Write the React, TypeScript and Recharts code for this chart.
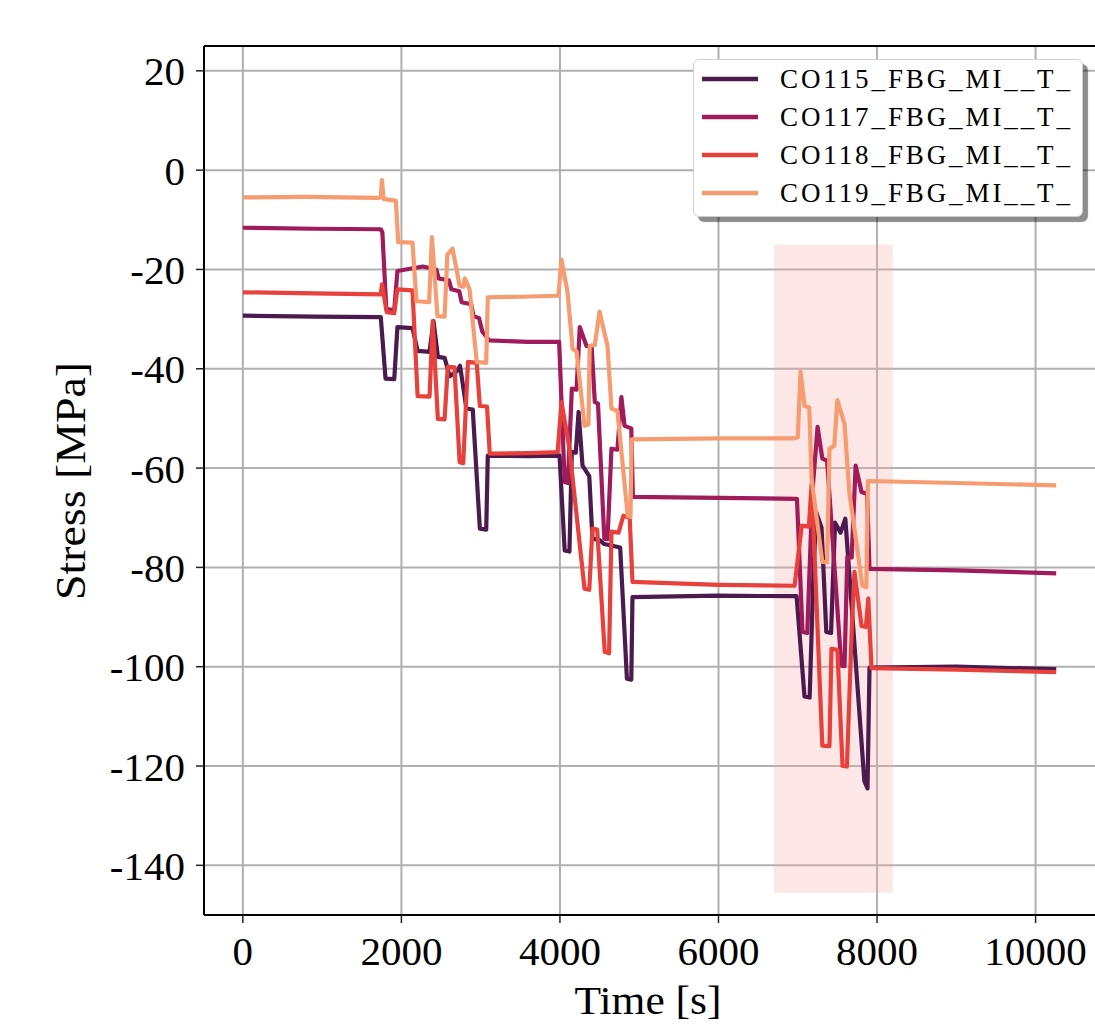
import React from 'react';
import {
  LineChart, Line, XAxis, YAxis, CartesianGrid, ReferenceArea, ReferenceLine, Legend, Label,
} from 'recharts';

const FONT = "'Liberation Serif', 'Times New Roman', serif";

const TIME_TICKS = [0, 2000, 4000, 6000, 8000, 10000];
const STRESS_TICKS = [20, 0, -20, -40, -60, -80, -100, -120, -140];

const SENSOR_NAMES = ['CO115_FBG_MI__T_', 'CO117_FBG_MI__T_', 'CO118_FBG_MI__T_', 'CO119_FBG_MI__T_'];
const SENSOR_COLORS = ['#4b1a4e', '#9f1b5b', '#e8413c', '#f79c70'];

// highlighted window [s] / [MPa]
const WINDOW_T = [6700, 8200];
const WINDOW_S = [-145.5, -15];

// [time s, stress MPa]
const co115: [number, number][] = [
  [0, -29.3], [900, -29.5], [1740, -29.6], [1800, -42.0], [1910, -42.1], [1950, -31.6],
  [2140, -31.8], [2205, -36.4], [2355, -36.6], [2405, -30.4], [2460, -37.6], [2545, -37.8],
  [2610, -41.5], [2700, -40.5], [2740, -39.4], [2820, -48.0], [2900, -48.2], [2990, -72.2],
  [3070, -72.4], [3090, -57.5], [3600, -57.6], [3995, -57.5], [4060, -76.6], [4120, -76.8],
  [4150, -56.7], [4200, -56.9], [4235, -48.7], [4285, -59.5], [4370, -61.6], [4410, -74.2],
  [4500, -74.5], [4560, -75.3], [4760, -76.0], [4845, -102.4], [4900, -102.6], [4915, -86.0],
  [6000, -85.7], [6985, -85.8], [7085, -106.0], [7150, -106.2], [7200, -80.0], [7235, -69.0],
  [7300, -72.0], [7360, -93.0], [7420, -93.2], [7470, -71.0], [7540, -73.0], [7600, -70.2],
  [7840, -123.0], [7880, -124.5], [7905, -100.2], [9000, -100.0], [10260, -100.5],
];

const co117: [number, number][] = [
  [0, -11.6], [900, -11.8], [1740, -11.9], [1760, -12.5], [1810, -28.0], [1910, -28.2],
  [1950, -20.3], [2270, -19.4], [2440, -20.0], [2470, -21.8], [2600, -22.2], [2630, -24.0],
  [2730, -24.4], [2760, -26.6], [2880, -27.0], [2910, -29.4], [2980, -29.8], [3020, -32.5],
  [3110, -34.3], [3600, -34.6], [3990, -34.6], [4060, -62.8], [4100, -63.0],
  [4150, -44.0], [4210, -44.2], [4250, -31.6], [4335, -35.4], [4400, -35.6], [4440, -46.7],
  [4480, -47.0], [4560, -74.2], [4600, -74.3], [4650, -56.1], [4725, -56.3], [4775, -45.7],
  [4815, -51.5], [4900, -52.0], [4920, -65.8], [6000, -66.0], [6990, -66.2], [7060, -93.0],
  [7120, -93.2], [7185, -64.8], [7250, -51.7], [7310, -58.1], [7370, -58.5], [7550, -99.8],
  [7590, -99.9], [7625, -77.9], [7680, -78.0], [7730, -59.5], [7805, -64.8], [7875, -65.2],
  [7905, -80.3], [9000, -80.6], [10260, -81.2],
];

const co118: [number, number][] = [
  [0, -24.6], [900, -24.8], [1740, -25.0], [1755, -23.0], [1815, -28.6], [1910, -28.8],
  [1950, -24.0], [2140, -24.2], [2205, -45.5], [2355, -45.6], [2395, -30.4], [2460, -50.1],
  [2545, -50.2], [2585, -39.6], [2670, -39.7], [2735, -58.8], [2780, -59.0], [2840, -38.6],
  [2950, -38.8], [2990, -47.5], [3080, -47.6], [3115, -57.1], [3600, -57.0], [3970, -56.8],
  [4020, -46.7], [4060, -50.5], [4120, -56.1], [4310, -84.3], [4370, -84.5], [4410, -72.2],
  [4470, -72.4], [4565, -97.0], [4620, -97.3], [4650, -72.8], [4740, -73.0], [4800, -69.6],
  [4880, -70.0], [4915, -82.9], [6000, -83.5], [6960, -83.7], [7050, -71.6], [7140, -71.8],
  [7175, -63.2], [7310, -115.9], [7400, -116.0], [7425, -96.4], [7500, -96.6], [7565, -120.0],
  [7620, -120.1], [7680, -93.0], [7715, -80.9], [7805, -91.8], [7860, -92.0], [7890, -86.3],
  [7930, -100.3], [9000, -100.6], [10260, -101.1],
];

const co119: [number, number][] = [
  [0, -5.5], [800, -5.4], [1700, -5.6], [1740, -5.5], [1755, -2.0], [1775, -5.8],
  [1930, -6.2], [1960, -14.5], [2140, -14.6], [2190, -26.4], [2350, -26.6], [2385, -13.5],
  [2455, -29.4], [2545, -29.5], [2580, -17.0], [2645, -15.8], [2735, -23.3], [2780, -23.5],
  [2800, -21.8], [2860, -24.0], [2950, -38.6], [3070, -38.8], [3090, -25.6], [3500, -25.5],
  [3980, -25.3], [4020, -18.0], [4095, -24.5], [4160, -36.0], [4210, -36.5], [4310, -51.5],
  [4360, -51.2], [4375, -35.4], [4440, -35.2], [4500, -28.5], [4600, -35.4], [4650, -48.0],
  [4725, -48.5], [4855, -69.6], [4890, -69.8], [4905, -54.2], [6000, -54.0], [6960, -54.0],
  [7000, -53.8], [7035, -40.6], [7085, -47.5], [7145, -47.8], [7175, -62.2], [7310, -78.9],
  [7370, -79.0], [7400, -56.1], [7460, -55.5], [7500, -46.3], [7590, -51.1], [7650, -64.8],
  [7815, -83.7], [7865, -84.0], [7885, -62.6], [9000, -63.0], [10260, -63.5],
];

const toPoints = (rows: [number, number][]) => rows.map(([t, v]) => ({ t, v }));

const SERIES = [co115, co117, co118, co119].map((rows, i) => ({
  name: SENSOR_NAMES[i],
  color: SENSOR_COLORS[i],
  data: toPoints(rows),
}));

const LegendBox = () => (
  <div
    style={{
      width: 390, height: 158, boxSizing: 'border-box', background: '#fff',
      border: '1.5px solid #cfcfcf', borderRadius: 6,
      boxShadow: '5px 5px 1px rgba(0,0,0,0.45)',
    }}
  >
    <svg width={387} height={155} style={{ display: 'block' }}>
      {SERIES.map((s, i) => (
        <g key={s.name}>
          <line x1={8} x2={64} y1={19 + i * 38} y2={19 + i * 38} stroke={s.color} strokeWidth={4.5} />
          <text
            x={86} y={28 + i * 38} fontSize={27} fontFamily={FONT} fill="#000"
            textLength={290} lengthAdjust="spacing"
          >
            {s.name}
          </text>
        </g>
      ))}
    </svg>
  </div>
);

export default function App() {
  return (
    <div style={{ position: 'absolute', left: 0, top: 0, width: 1095, height: 1027, overflow: 'hidden', background: '#fff' }}>
      <LineChart width={1099} height={1027} margin={{ top: 46, right: 0, bottom: 0, left: 0 }}>
        <CartesianGrid stroke="#b0b0b0" strokeWidth={2} />
        <XAxis
          dataKey="t" type="number" domain={[-490, 10800]} allowDataOverflow ticks={TIME_TICKS}
          height={112} tickSize={8} tickMargin={13}
          tick={{ fontSize: 41, fontFamily: FONT, fill: '#000' }}
          tickLine={{ stroke: '#222', strokeWidth: 1.5 }}
          axisLine={{ stroke: '#000', strokeWidth: 2 }}
        >
          <Label
            content={() => (
              <text x={648} y={1014} textAnchor="middle" fontSize={41} fontFamily={FONT} fill="#000" textLength={147} lengthAdjust="spacingAndGlyphs">
                Time [s]
              </text>
            )}
          />
        </XAxis>
        <YAxis
          type="number" domain={[-150, 25]} allowDataOverflow ticks={STRESS_TICKS}
          width={204} tickSize={8} tickMargin={11}
          tickFormatter={(v: number) => String(v)}
          tick={{ fontSize: 41, fontFamily: FONT, fill: '#000' }}
          tickLine={{ stroke: '#222', strokeWidth: 1.5 }}
          axisLine={{ stroke: '#000', strokeWidth: 2 }}
        >
          <Label
            content={() => (
              <text
                x={85} y={481} textAnchor="middle" fontSize={43} fontFamily={FONT} fill="#000"
                transform="rotate(-90, 85, 481)" textLength={238} lengthAdjust="spacingAndGlyphs"
              >
                Stress [MPa]
              </text>
            )}
          />
        </YAxis>
        <ReferenceArea
          x1={WINDOW_T[0]} x2={WINDOW_T[1]} y1={WINDOW_S[0]} y2={WINDOW_S[1]}
          fill="#f4a6a6" fillOpacity={0.28} stroke="none"
        />
        <ReferenceLine y={25} stroke="#000" strokeWidth={2} />
        <ReferenceLine x={10800} stroke="#000" strokeWidth={2} />
        {SERIES.map((s) => (
          <Line
            key={s.name}
            data={s.data}
            dataKey="v"
            name={s.name}
            type="linear"
            stroke={s.color}
            strokeWidth={4.2}
            strokeLinejoin="round"
            dot={false}
            activeDot={false}
            isAnimationActive={false}
          />
        ))}
        <Legend
          layout="horizontal" verticalAlign="middle" align="center" width={400}
          wrapperStyle={{ top: 59, left: 693 }}
          content={() => <LegendBox />}
        />
      </LineChart>
    </div>
  );
}
